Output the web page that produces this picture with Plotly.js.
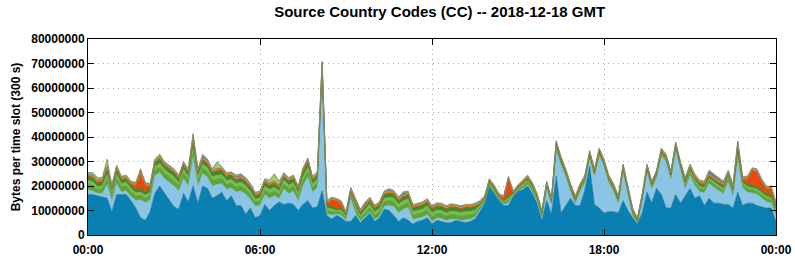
<!DOCTYPE html>
<html><head><meta charset="utf-8">
<script src="https://cdn.plot.ly/plotly-3.0.1.min.js"></script>
<style>html,body{margin:0;padding:0;background:#fff}#chart{width:795px;height:260px}</style>
</head><body><div id="chart"></div>
<script>
// 10-minute samples over 2018-12-18 (values in millions of bytes per 300 s slot)
const minutes = Array.from({length:145},(_,i)=>i*10);
const tickVals = [0,360,720,1080,1440];
const tickText = ['00:00','06:00','12:00','18:00','00:00'];

const dkblue = [16.5,16.5,16,15.5,15,9.5,16.5,16.5,16.5,14,
 11,7,6,9.5,17,20,17,14,11.5,10.5,
 17,13.5,20,13,20,19,15,16,17.5,14,
 16,12,12,8.5,11,7,8,12.5,10,12,
 13.5,12.5,13,12.5,10,12.5,14,11,11.5,18,
 8,6.5,8,7,5.5,5.5,8,5,7,9,
 5.5,7,10.5,10,8,5.5,7,6,4.5,5.5,
 6,7,4.5,6,5.5,5,5,6,5.5,5,
 5.5,6.5,9.5,13,20,17,14.3,12,12,15.8,
 18,18.5,20,17,13,6,14,8.5,24,9,
 12,15,12,12,18.4,28,12.5,11,9,9.5,
 9.5,9,14,10,7,4.5,9,17.5,13,19,
 16.5,11,11,16.5,13,16,19,15,16,12,
 15,13,13,12.5,12.5,11,17.5,12,13,13,
 12,11.5,11,11,5.5];
const ltblue = [2.0,1.5,1.0,1.5,5.6,4.4,4.5,1.1,1.6,1.6,
 3.2,7.4,7.2,4.8,7.2,5.5,6.0,7.5,8.5,7.4,
 6.0,6.5,11.9,7.0,5.1,4.6,5.0,4.6,3.5,4.7,
 3.2,5.6,6.0,8.2,3.6,4.8,4.0,3.9,5.0,4.0,
 1.4,6.4,3.9,5.4,3.8,7.5,9.7,6.4,7.9,47.8,
 0.7,1.6,0.6,1.1,0.5,9.5,0.9,0.6,0.5,0.5,
 0.8,0.7,1.1,2.1,3.6,3.5,3.5,5.2,1.9,1.3,
 1.2,1.4,1.0,0.9,1.2,0.9,1.5,0.4,0.4,1.2,
 0.9,0.8,0.6,0.2,0.2,0.3,0.1,0.5,1.2,0.2,
 0.3,0.4,0.5,0.6,0.4,1.0,5.2,3.9,10.5,19.6,
 11.8,2.8,0.8,5.8,2.9,3.3,11.3,21.3,18.8,11.8,
 8.3,3.8,11.8,6.8,0.8,0.4,4.8,8.3,5.8,4.3,
 15.8,18.8,11.8,18.3,13.8,2.7,5.2,5.2,1.7,5.2,
 5.9,6.4,5.1,4.3,9.2,4.7,14.4,7.2,4.6,4.1,
 4.6,3.6,2.6,2.1,2.6];
const greenA = [2.2,2.2,1.6,1.8,2.4,2,2.2,2,2,2,
 1.8,1.8,1.8,1.8,2.1,2.2,2.2,2.2,2.2,2,
 2.2,2.2,2.4,2.2,2.2,2.2,2.2,2.2,2.1,2.1,
 2,2,2,2,1.9,1.7,1.8,2,2,2,
 1.8,2,2,2,1.8,2.2,2.2,2,2,1.2,
 1.4,1.5,0.8,1.2,1,1.2,1.6,1.4,1.6,1.8,
 1.8,1.8,1.9,1.9,2,2,2,2,1.8,1.8,
 1.9,2,2,1.9,1.9,1.8,1.9,1.8,1.8,1.9,
 1.8,1.7,1.1,0.7,0.7,0.8,0.6,0.7,1.1,0.4,
 0.5,1,1.1,1.1,1,0.8,0.7,0.7,1,0.8,
 0.8,0.8,0.8,0.8,0.8,0.8,0.8,0.8,0.8,0.8,
 0.8,0.8,0.8,0.8,0.8,0.5,0.8,0.8,0.8,0.8,
 0.8,0.8,0.8,0.8,0.8,1.3,1.3,1.3,1.3,1.3,
 1.3,1.3,1.3,1.3,1.3,1.3,1.3,1.3,1.3,1.3,
 1.3,1.3,1.3,1.3,1.3];
const greenB = [1.6,1.6,1.2,1.3,1.8,1.5,1.7,1.4,1.4,1.4,
 1.3,1.3,1.3,1.3,1.5,1.6,1.6,1.6,1.6,1.5,
 1.6,1.6,1.8,1.6,1.6,1.6,1.6,1.6,1.5,1.5,
 1.5,1.5,1.5,1.5,1.4,1.2,1.3,1.5,1.5,1.5,
 1.3,1.5,1.5,1.5,1.4,1.6,1.7,1.5,1.5,0.9,
 1.1,1.1,0.6,0.9,0.7,0.9,1.2,1,1.2,1.3,
 1.3,1.3,1.4,1.4,1.5,1.5,1.5,1.5,1.4,1.4,
 1.4,1.5,1.5,1.4,1.4,1.4,1.4,1.4,1.4,1.4,
 1.4,1.2,0.7,0.4,0.4,0.6,0.4,0.4,0.8,0.3,
 0.3,0.7,0.7,0.7,0.7,0.6,0.4,0.4,0.7,0.6,
 0.5,0.5,0.5,0.5,0.5,0.5,0.5,0.5,0.5,0.5,
 0.5,0.5,0.5,0.5,0.5,0.3,0.5,0.5,0.5,0.5,
 0.5,0.5,0.5,0.5,0.5,0.9,0.9,0.9,0.9,0.9,
 0.9,0.9,0.9,0.9,0.9,0.9,0.9,0.9,0.9,0.9,
 0.9,0.9,0.9,0.9,0.9];
const greenC = [1.6,1.6,1.2,1.3,1.8,1.5,1.7,1.4,1.4,1.4,
 1.4,1.4,1.4,1.4,1.6,1.6,1.6,1.6,1.6,1.5,
 1.6,1.6,1.8,1.6,1.6,1.6,1.6,1.6,1.6,1.6,
 1.5,1.5,1.5,1.5,1.5,1.3,1.3,1.5,1.5,1.5,
 1.3,1.5,1.5,1.5,1.4,1.6,1.7,1.5,1.5,0.9,
 1.1,1.2,0.6,0.9,0.7,0.9,1.2,1,1.2,1.3,
 1.3,1.3,1.5,1.5,1.5,1.5,1.5,1.5,1.4,1.4,
 1.5,1.5,1.5,1.5,1.5,1.4,1.5,1.4,1.4,1.5,
 1.4,1.3,0.8,0.5,0.5,0.6,0.4,0.5,0.9,0.3,
 0.4,0.7,0.8,0.8,0.7,0.6,0.5,0.5,0.7,0.6,
 0.5,0.5,0.5,0.5,0.5,0.5,0.5,0.5,0.5,0.5,
 0.5,0.5,0.5,0.5,0.5,0.3,0.5,0.5,0.5,0.5,
 0.5,0.5,0.5,0.5,0.5,1.0,1.0,1.0,1.0,1.0,
 1.0,1.0,1.0,1.0,1.0,1.0,1.0,1.0,1.0,1.0,
 1.0,1.0,1.0,1.0,1.0];
const red = [.4,.4,.6,.8,.5,.4,.5,.4,.4,.4,
 1.5,6,2.5,1,.4,.6,.4,.4,.4,.4,
 .4,.4,1.5,.4,.5,.4,.4,.4,.4,.4,
 .4,.4,.4,.4,.4,.4,.4,.4,.4,.4,
 .4,.4,.4,.4,.4,.8,.8,.4,.4,.6,
 .6,2.5,3.5,2,.3,.4,.4,.3,.4,.4,
 .4,.4,.4,.4,.4,.4,.4,.4,.4,.4,
 .4,.4,.4,.4,.4,.4,.4,.4,.4,.4,
 .4,.4,.3,.3,.3,.3,.3,1,7,.3,
 .3,.3,.3,.3,.3,.3,.3,.3,.3,.3,
 .3,.3,.3,.3,.3,.3,.3,.3,.3,.3,
 .3,.3,.3,.3,.3,.2,.3,.3,.3,.3,
 .3,.3,.3,.3,.3,.4,.4,.4,.4,.4,
 .4,.4,.4,.4,.4,.4,1.5,.4,2,6,
 6,3.5,2,2.5,1];
const orange = [.5,.5,.5,.5,.6,.5,.5,.5,.5,.5,
 .5,.8,.5,.5,.5,.8,.5,.5,.5,.5,
 .5,.5,1,.5,.5,.5,.5,.5,.5,.5,
 .5,.5,.5,.5,.5,.5,.5,.5,.5,.5,
 .5,.5,.5,.5,.5,.6,.7,.5,.5,.8,
 .5,.5,.4,.4,.3,.5,.5,.4,.5,.5,
 .5,.5,.5,.6,.5,.5,.5,.5,.5,.5,
 .5,.5,.5,.5,.5,.5,.5,.5,.5,.5,
 .5,.5,.5,.4,.4,.4,.4,.4,.5,.3,
 .3,.4,.5,.5,.4,.3,.4,.3,.7,.6,
 .6,.6,.6,.6,.6,.6,.6,.6,.6,.6,
 .6,.6,.6,.6,.6,.4,.6,.6,.6,.6,
 .6,.6,.6,.6,.6,.5,.5,.5,.5,.5,
 .5,.5,.5,.5,.5,.5,1.2,.5,.5,.5,
 .5,.5,.5,.5,.5];
const blue2 = [.2,.2,.2,.2,.3,.2,.4,.2,.2,.2,
 .3,.8,.3,.2,.2,.2,.2,.2,.2,.2,
 .2,.2,.4,.2,1,.6,.2,.2,.2,.2,
 .2,.5,.6,.4,.2,.2,.2,.2,.2,.2,
 .2,.2,.2,.2,.2,.2,.2,.2,.2,.2,
 .2,.2,.1,.1,.1,.1,.8,.4,.7,.2,
 .2,.2,.2,.6,.2,.2,.8,.4,.2,.2,
 .2,.2,.2,.2,.2,.2,.2,.2,.2,.2,
 .2,.2,.1,.1,.1,.1,.1,.1,.1,.1,
 .1,.1,.2,.1,.1,.1,.1,.1,.2,.1,
 .1,.1,.1,.1,.1,.1,.1,.1,.1,.1,
 .1,.1,.1,.1,.1,.1,.1,.1,.1,.1,
 .1,.1,.1,.1,.1,.2,.2,.2,.2,.2,
 1,1,.8,.6,.2,.2,.2,.2,.2,.2,
 .2,.2,.2,.2,.2];
const lime = [.1,.6,.8,.2,2.5,.1,.1,.1,.1,.1,
 .1,.1,.1,.1,.1,.1,.1,.1,.1,.1,
 .1,.1,.2,.1,.1,.1,.1,2.5,.3,.1,
 .1,.1,.1,.1,.1,.1,.1,.1,1,2.5,
 1.2,.1,.1,.1,.1,.1,.1,.1,.1,.1,
 .1,.1,.1,.1,.1,.1,.1,.1,.1,.1,
 .1,.1,.1,.1,.1,.1,.1,.1,.1,.1,
 .1,.1,.1,.1,.1,.1,.1,.1,.1,.1,
 .1,.1,.1,.1,.1,.1,.1,.1,.1,.1,
 .1,.1,.1,.1,.1,.1,.1,.1,.1,.1,
 .1,.1,.1,.1,.1,.1,.1,.1,.1,.1,
 .1,.1,.1,.1,.1,.1,.1,.1,.1,.1,
 .1,.1,.1,.1,.1,.1,.1,.1,.1,.1,
 .1,.1,.1,.1,.1,.1,.1,.1,.1,.1,
 .1,.1,.1,.1,.1];
const gray = [.4,.4,.4,.4,.5,.4,.4,.4,.4,.4,
 .4,.4,.4,.4,.4,.4,.4,.4,.4,.4,
 .4,.4,.5,.4,.4,.4,.4,.4,.4,.4,
 .4,.4,.4,.4,.4,.3,.4,.4,.4,.4,
 .4,.4,.4,.4,.4,.4,.4,.4,.4,.5,
 .3,.3,.3,.3,.3,.4,.3,.3,.3,.4,
 .3,.3,.4,.4,.4,.4,.4,.4,.3,.3,
 .3,.3,.3,.3,.3,.3,.3,.3,.3,.3,
 .3,.3,.3,.3,.3,.3,.3,.3,.3,.2,
 .2,.3,.3,.3,.3,.2,.3,.2,.3,.3,
 .3,.3,.3,.3,.3,.3,.3,.3,.3,.3,
 .3,.3,.3,.3,.3,.2,.3,.3,.3,.3,
 .3,.3,.3,.3,.3,.4,.4,.4,.4,.4,
 .4,.4,.4,.4,.4,.4,.4,.4,.4,.4,
 .4,.4,.4,.4,.4];

const M = 1e6;
const layers = [
  {name:'dkblue', v:dkblue, c:'#0a80b2', lc:'#06668e'},
  {name:'ltblue', v:ltblue, c:'#8cc5e3', lc:'#7ab3d2'},
  {name:'greenA', v:greenA, c:'#5ba634', lc:'#4d9028'},
  {name:'greenB', v:greenB, c:'#7cbc52', lc:'#6aa845'},
  {name:'greenC', v:greenC, c:'#3f8a2a', lc:'#357624'},
  {name:'red', v:red, c:'#e84a0c', lc:'#d03f08'},
  {name:'orange', v:orange, c:'#e89a1c', lc:'#d08814'},
  {name:'blue2', v:blue2, c:'#4a6fc0', lc:'#3e5fa8'},
  {name:'lime', v:lime, c:'#9ad64a', lc:'#88c23e'},
  {name:'gray', v:gray, c:'#8c8c8c', lc:'#7a7a7a'}
];
const traces = layers.map(l => ({
  type:'scatter', mode:'lines', x:minutes, y:l.v.map(v=>v*M),
  stackgroup:'one', name:l.name, fillcolor:l.c,
  line:{color:l.lc, width:0.6, shape:'linear'}, hoverinfo:'skip'
}));

const fontFam = '"Liberation Sans", Arial, sans-serif';
const gridDash = '1px,4px';
const layout = {
  width:795, height:260,
  margin:{l:88, r:19, t:39, b:25},
  paper_bgcolor:'#fff', plot_bgcolor:'#fff',
  showlegend:false,
  title:{text:'Source Country Codes (CC) -- 2018-12-18 GMT', x:0.553, xanchor:'center', y:0.955, yanchor:'middle',
         font:{family:fontFam, size:15, weight:'bold', color:'#000'}},
  xaxis:{range:[0,1440], tickvals:tickVals, ticktext:tickText, ticks:'inside', ticklen:6, tickcolor:'#000',
         ticklabelstandoff:4,
         showline:true, linecolor:'#000', linewidth:1, mirror:'ticks', zeroline:false,
         showgrid:true, gridcolor:'#a8a8a8', griddash:gridDash, gridwidth:1,
         tickfont:{family:fontFam, size:12, weight:'bold', color:'#000'}},
  yaxis:{range:[0,80000000], dtick:10000000, tickformat:'d', ticks:'inside', ticklen:6, tickcolor:'#000',
         showline:true, linecolor:'#000', linewidth:1, mirror:'ticks', zeroline:false,
         showgrid:true, gridcolor:'#a8a8a8', griddash:gridDash, gridwidth:1,
         tickfont:{family:fontFam, size:12, weight:'bold', color:'#000'},
         title:{text:'Bytes per time slot (300 s)', standoff:8, font:{family:fontFam, size:12, weight:'bold', color:'#000'}}}
};
Plotly.newPlot('chart', traces, layout, {staticPlot:true, displayModeBar:false});
</script></body></html>
